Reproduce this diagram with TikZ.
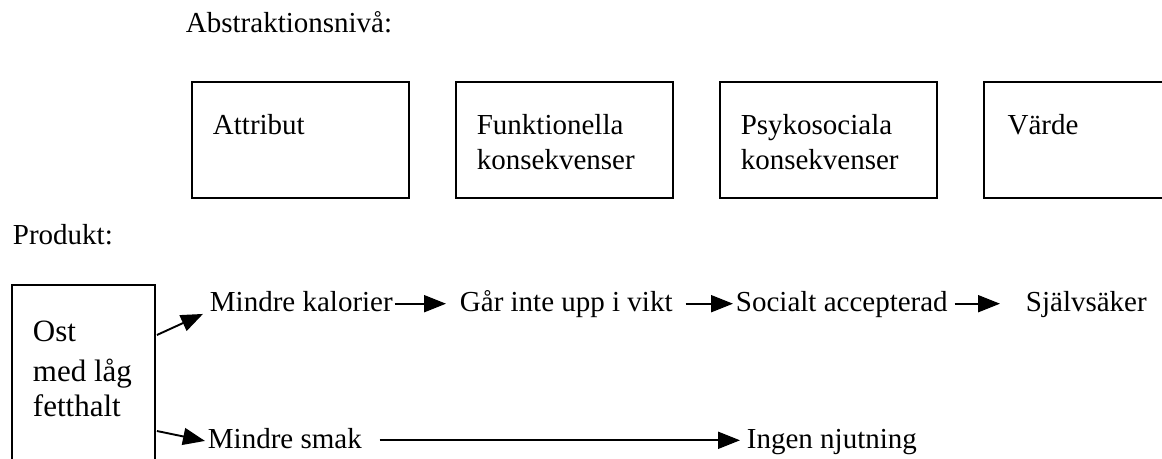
\documentclass[tikz,border=0pt]{standalone}
\usepackage{fontspec}
\setmainfont{Liberation Serif}
\usetikzlibrary{positioning,calc,arrows.meta}

\begin{document}
\begin{tikzpicture}[
    x=0.5pt, y=-0.5pt,
    font=\fontsize{14.5}{17.5}\selectfont,
    >={Triangle[length=11pt,width=8.5pt]},
    line width=0.95pt,
    node distance=22.5pt,
    box/.style={draw, rectangle, anchor=north west, minimum width=108.5pt, minimum height=58pt, inner sep=0pt},
    txt/.style={anchor=base west, inner sep=0pt, align=left},
    lbl/.style={anchor=base west, inner sep=0pt, text height=0.8em, text depth=0pt}
]
\useasboundingbox (0,0) rectangle (1162,459);

% Abstraktionsnivå
\node[txt] (niva) at (185,33) {Abstraktionsnivå:};

\node[box] (attr) at (191,81) {};
\node[box, right=of attr] (funk) {};
\node[box, right=of funk] (psyk) {};
\node[box, right=of psyk] (varde) {};

% base = sista raden
\node[txt] (attr_t) at ($(attr.north west)+(21,54)$) {Attribut};
\node[txt] (funk_t) at ($(funk.north west)+(21,89)$) {Funktionella\\konsekvenser};
\node[txt] (psyk_t) at ($(psyk.north west)+(21,89)$) {Psykosociala\\konsekvenser};
\node[txt] (varde_t) at ($(varde.north west)+(24,54)$) {Värde};

% Produkt
\node[txt] (prod) at (12,245) {Produkt:};

\node[draw, anchor=north west, minimum width=71.5pt, minimum height=100pt, inner sep=0pt] (ost) at (11,284) {};
\node[txt, font=\fontsize{15.5}{17.5}\selectfont] (ost_t) at ($(ost.north west)+(21,133)$) {Ost\\[2.5pt]med låg\\fetthalt};

\node[lbl] (kal) at (209,311.7) {Mindre kalorier};
\node[lbl] (vikt) at (459,311.7) {Går inte upp i vikt};
\node[lbl] (acc) at (735,311.7) {Socialt accepterad};
\node[lbl] (sjalv) at (1025,311.7) {Självsäker};

\node[lbl] (smak) at (207,448.3) {Mindre smak};
\node[lbl] (njut) at (746,448.3) {Ingen njutning};

% pilar
\draw[->] ($(ost.north east)+(1,51)$) -- ($(kal.south west)+(-6,1.3)$);
\draw[->] ($(ost.north east)+(1,147)$) -- ($(smak.south west)+(-2,-8.3)$);

\draw[->] ($(kal.east)+(1,0)$) -- ($(vikt.west)+(-13,0)$);
\draw[->] ($(vikt.east)+(12,0)$) -- ($(acc.west)+(-2,0)$);
\draw[->] ($(acc.east)+(6,0)$) -- ($(sjalv.west)+(-25,0)$);

\draw[->] ($(smak.east)+(17,0)$) -- ($(njut.west)+(-6,0)$);

\end{tikzpicture}
\end{document}
